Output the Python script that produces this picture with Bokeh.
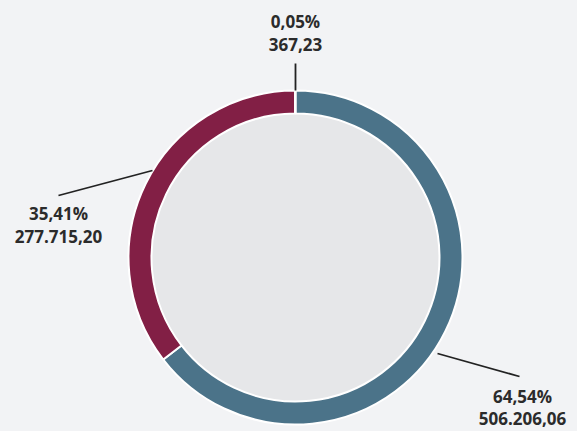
import numpy as np
from bokeh.plotting import figure
from bokeh.models import Range1d, ColumnDataSource
from bokeh.core.properties import value
from bokeh.embed import file_html
from bokeh.resources import INLINE

# data
labels_pct = ["64,54%", "35,41%", "0,05%"]
labels_val = ["506.206,06", "277.715,20", "367,23"]
values = [506206.06, 277715.20, 367.23]
colors = ["#4b7389", "#821f45", "#5a5a5a"]

BG = "#f2f3f5"
W, H = 577, 431

p = figure(width=W, height=H, output_backend="svg", toolbar_location=None,
           x_range=Range1d(0, W), y_range=Range1d(0, H),
           min_border=0, background_fill_color=BG, border_fill_color=BG)
p.axis.visible = False
p.grid.visible = False
p.outline_line_color = None

def sy(y):
    return H - y

cx, cy = 295, sy(257)
r_out, r_in = 167, 144

total = sum(values)
fr = np.array(values) / total
ends = np.pi / 2 - 2 * np.pi * np.cumsum(fr)
starts = np.concatenate([[np.pi / 2], ends[:-1]])

p.circle(x=[cx], y=[cy], radius=r_in, fill_color="#e6e7e9", line_color=None)

src = ColumnDataSource(dict(x=[cx] * 3, y=[cy] * 3, start=list(starts), end=list(ends), color=colors))
p.annular_wedge(x="x", y="y", inner_radius=r_in, outer_radius=r_out,
                start_angle="start", end_angle="end", direction="clock",
                fill_color="color", line_color="white", line_width=2, source=src)

# leader lines and labels (screen positions)
leaders = [
    ((437, 353), (519, 376)),
    ((152, 170), (58, 195)),
    ((295, 90), (295, 63)),
]
text_pos = [(522, 396, 418), (58, 213, 236), (295, 21, 44)]

FONT = value("Open Sans")
for (a, b) in leaders:
    p.line(x=[a[0], b[0]], y=[sy(a[1]), sy(b[1])], line_color="#222222", line_width=1.8)

for i, (tx, ty1, ty2) in enumerate(text_pos):
    p.text(x=[tx], y=[sy(ty1)], text=[labels_pct[i]], text_align="center", text_baseline="middle",
           text_font=FONT, text_font_style="bold", text_font_size="17px", text_color="#2b2b2b")
    p.text(x=[tx], y=[sy(ty2)], text=[labels_val[i]], text_align="center", text_baseline="middle",
           text_font=FONT, text_font_style="bold", text_font_size="17px", text_color="#2b2b2b")

html = file_html(p, INLINE)
html = html.replace("<head>", "<head><style>html,body{margin:0;padding:0;background:%s;overflow:hidden;}</style>" % BG, 1)
open("out.html", "w").write(html)
